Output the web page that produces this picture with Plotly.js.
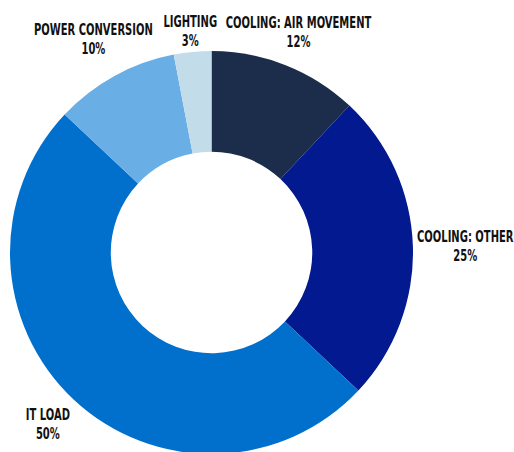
<!DOCTYPE html>
<html>
<head>
<meta charset="utf-8">
<script src="https://cdn.plot.ly/plotly-3.0.1.min.js"></script>
<style>
html,body{margin:0;padding:0;background:#fff;overflow:hidden;width:514px;height:452px;}
#chart{width:514px;height:456px;}
#chart text{font-stretch:condensed !important;}
#chart text.annotation-text{transform:scaleX(0.74);transform-box:fill-box;transform-origin:center;}
</style>
</head>
<body>
<div id="chart"></div>
<script>
const categories = ["COOLING: AIR MOVEMENT", "COOLING: OTHER", "IT LOAD", "POWER CONVERSION", "LIGHTING"];
const shares = [12, 25, 50, 10, 3];
const sliceColors = ["#1b2d4a", "#03198f", "#0070cc", "#6aaee6", "#c2dde9"];

// label block centres (pixels from top-left), layout only
const labelPos = [[299, 33], [465, 247], [48, 425], [93, 40], [190, 32]];

const W = 514, H = 456;
const fontFam = "'Liberation Sans Narrow', 'DejaVu Sans Condensed', 'DejaVu Sans', sans-serif";

const trace = {
  type: "pie",
  labels: categories,
  values: shares,
  hole: 0.5,
  sort: false,
  direction: "clockwise",
  rotation: 0,
  marker: {colors: sliceColors, line: {color: "#ffffff", width: 0}},
  textinfo: "none",
  hoverinfo: "skip",
  showlegend: false,
  automargin: false,
  domain: {x: [10/W, 413/W], y: [1 - 454/H, 1 - 51/H]}
};

const annotations = categories.map((c, i) => ({
  xref: "paper", yref: "paper",
  x: labelPos[i][0] / W, y: 1 - labelPos[i][1] / H,
  xanchor: "center", yanchor: "middle",
  text: "<b>" + c + "<br>" + shares[i] + "%</b>",
  showarrow: false,
  align: "center",
  font: {family: fontFam, size: 15, color: "#111111"}
}));

const layout = {
  width: W,
  height: H,
  margin: {l: 0, r: 0, t: 0, b: 0},
  paper_bgcolor: "#ffffff",
  plot_bgcolor: "#ffffff",
  showlegend: false,
  annotations: annotations
};

Plotly.newPlot("chart", [trace], layout, {staticPlot: true, displayModeBar: false});
</script>
</body>
</html>
